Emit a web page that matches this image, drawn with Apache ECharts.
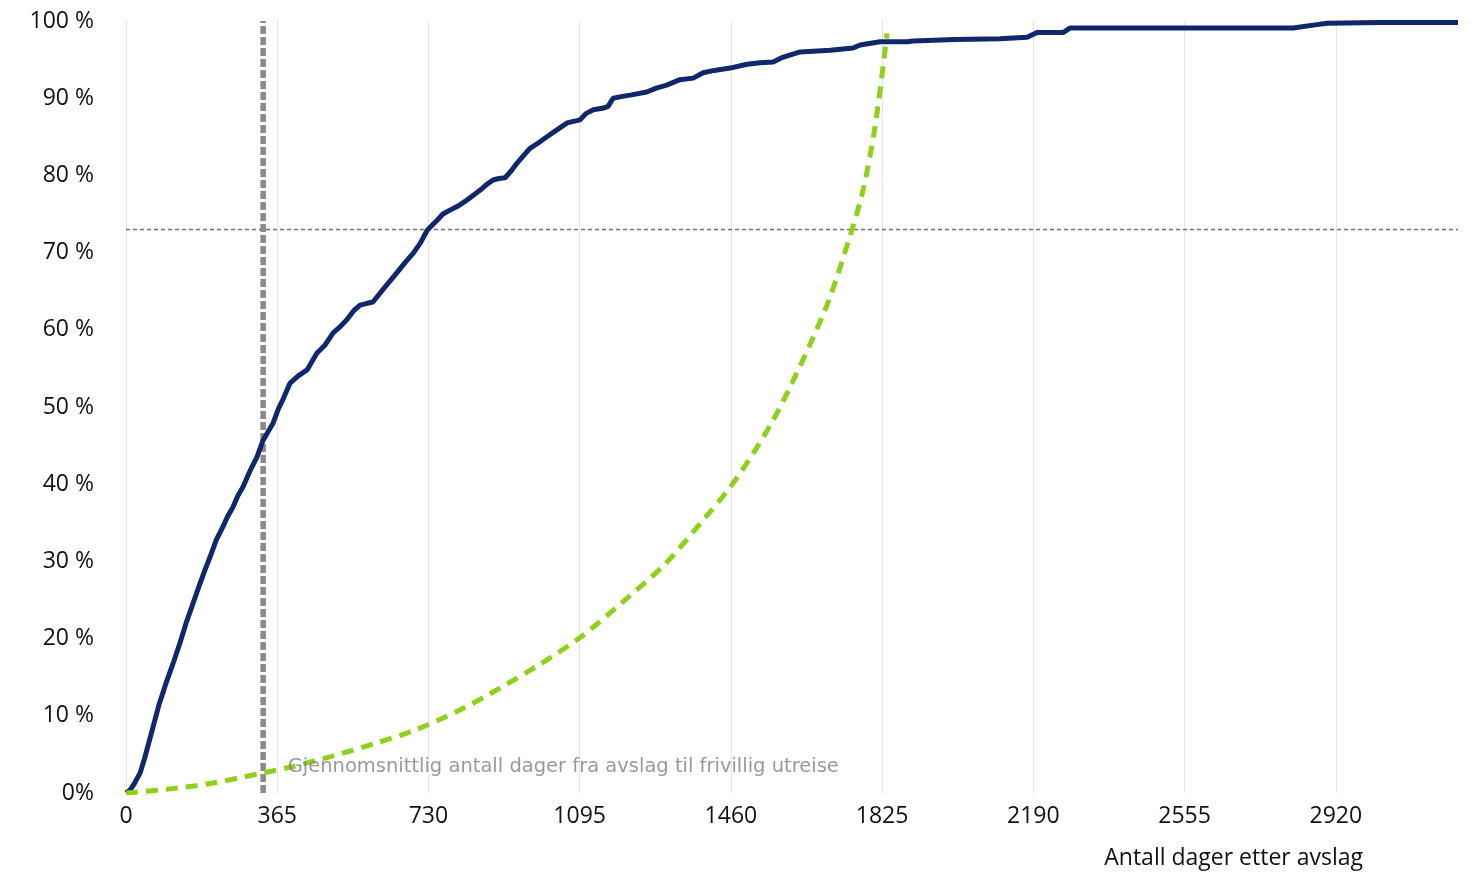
<!DOCTYPE html>
<html>
<head>
<meta charset="utf-8">
<script src="https://cdn.jsdelivr.net/npm/echarts@6/dist/echarts.min.js"></script>
<style>
html,body{margin:0;padding:0;background:#fff;}
#chart{width:1474px;height:894px;}
</style>
</head>
<body>
<div id="chart"></div>
<script>
// Cumulative share (%) of voluntary departures by days after rejection
const departureCurve = [
  [0,0],[10,0.4],[20,1.2],[34,2.6],[45,4.5],[65,8.5],[80,11.5],[99,14.6],[115,17],[130,19.4],
  [145,22],[162,24.6],[179,27.2],[190,28.8],[203,30.6],[218,32.8],[234,34.5],[245,35.8],[258,37.0],
  [270,38.5],[282,39.6],[300,41.8],[316,43.5],[331,45.7],[345,47.0],[355,47.9],[368,49.8],[379,51.0],
  [396,53.1],[415,54.0],[437,54.8],[450,56.0],[461,57.0],[480,58.0],[500,59.6],[515,60.3],[533,61.3],
  [550,62.5],[565,63.2],[580,63.4],[596,63.6],[620,65.2],[654,67.4],[675,68.8],[693,69.9],[710,71.2],
  [727,72.9],[740,73.6],[751,74.2],[765,75.0],[782,75.5],[800,76.0],[823,76.8],[840,77.5],[855,78.1],
  [870,78.8],[886,79.4],[900,79.6],[915,79.7],[930,80.6],[944,81.6],[960,82.6],[975,83.5],[995,84.2],
  [1016,85.0],[1040,85.9],[1065,86.8],[1080,87.0],[1096,87.2],[1110,88.0],[1128,88.5],[1150,88.7],
  [1163,88.9],[1176,90.0],[1195,90.2],[1217,90.4],[1257,90.8],[1280,91.3],[1305,91.7],[1337,92.4],
  [1369,92.6],[1393,93.3],[1420,93.6],[1458,93.9],[1499,94.4],[1530,94.6],[1562,94.7],[1585,95.3],
  [1627,96.0],[1700,96.2],[1755,96.5],[1772,96.9],[1820,97.3],[1885,97.3],[1900,97.4],[2000,97.6],
  [2110,97.7],[2175,97.9],[2199,98.5],[2262,98.5],[2279,99.1],[2817,99.1],[2870,99.5],[2899,99.7],
  [3027,99.8],[3215,99.8]
];
// Green dashed reference curve
const referenceCurve = [
  [0,0],[100,0.5],[200,1.2],[331,2.6],[400,3.4],[500,4.8],[600,6.4],[700,8.2],[800,10.6],
  [900,13.5],[1000,16.7],[1100,20.3],[1200,24.8],[1300,29.6],[1400,35.8],[1458,39.6],[1514,44],
  [1562,48.3],[1603,52.6],[1650,58],[1697,63.9],[1752,72.9],[1779,78.1],[1808,86.3],[1837,98.4]
];
const meanDays = 331;            // average days from rejection to voluntary departure
const meanLabelY = 3.4;
const horizontalLevel = 73;      // dotted reference level (%)
const xMax = 3215;
const xInterval = 365;
const meanLabel = 'Gjennomsnittlig antall dager fra avslag til frivillig utreise';
const xAxisTitle = 'Antall dager etter avslag';

const chart = echarts.init(document.getElementById('chart'));
const font = '"Open Sans", "Noto Sans", sans-serif';
chart.setOption({
  animation: false,
  backgroundColor: '#ffffff',
  grid: {left: 126, right: 16, top: 21, bottom: 101, containLabel: false},
  xAxis: {
    type: 'value', min: 0, max: xMax, interval: xInterval,
    name: xAxisTitle, nameLocation: 'end', nameGap: -95,
    nameTextStyle: {fontFamily: font, fontSize: 23, color: '#111', align: 'right', verticalAlign: 'top', padding: [54, 0, 0, 0]},
    axisLine: {show: false}, axisTick: {show: false},
    axisLabel: {fontFamily: font, fontSize: 23, color: '#111', margin: 12, showMaxLabel: false,
      formatter: v => (v % xInterval === 0 ? String(v) : '')},
    splitLine: {show: true, showMaxLine: false, lineStyle: {color: '#e4e4e4', width: 1}}
  },
  yAxis: {
    type: 'value', min: 0, max: 100, interval: 10,
    axisLine: {show: false}, axisTick: {show: false}, splitLine: {show: false},
    axisLabel: {fontFamily: font, fontSize: 23, color: '#111', margin: 32,
      formatter: v => (v === 0 ? '0%' : v + ' %')}
  },
  series: [
    {
      type: 'line', data: [[0, horizontalLevel], [xMax, horizontalLevel]],
      symbol: 'none', silent: true, z: 1,
      lineStyle: {color: '#6e6e6e', width: 1.5, type: [4, 3]}
    },
    {
      type: 'line', data: [[meanDays, 0], [meanDays, 100]],
      symbol: 'none', silent: true, z: 2,
      lineStyle: {color: '#8a8a8a', width: 5.5, type: [8, 3]}
    },
    {
      type: 'line', data: departureCurve, symbol: 'none', z: 3,
      lineStyle: {color: '#10286b', width: 5}
    },
    {
      type: 'line', data: referenceCurve, symbol: 'none', smooth: 0.3, z: 4,
      lineStyle: {color: '#8fd11a', width: 5, type: [12, 8]}
    },
    {
      type: 'scatter', data: [[meanDays, meanLabelY]], symbolSize: 1, z: 5,
      itemStyle: {color: 'rgba(0,0,0,0)'},
      label: {show: true, position: 'right', distance: 24, formatter: meanLabel,
        fontFamily: '"DejaVu Sans", sans-serif', fontSize: 19.5, color: '#7f7f7f'}
    }
  ]
});
</script>
</body>
</html>
